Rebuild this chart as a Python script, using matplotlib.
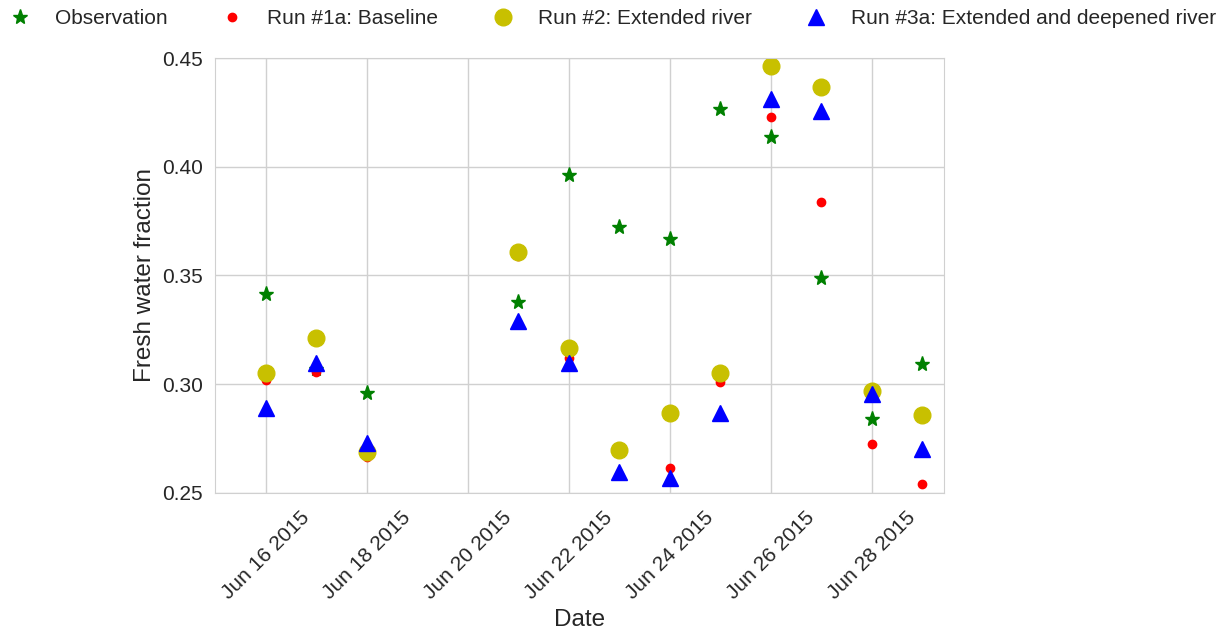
import datetime as dt
import matplotlib
matplotlib.use('Agg')
import matplotlib.pyplot as plt
import matplotlib.dates as mdates

# sampling days (June 2015)
days = [16, 17, 18, 21, 22, 23, 24, 25, 26, 27, 28, 29]
dates = [dt.datetime(2015, 6, d) for d in days]

observation = [0.3415, 0.307, 0.296, 0.3378, 0.3962, 0.3723, 0.3668, 0.4266, 0.4138, 0.349, 0.2839, 0.3092]
baseline = [0.302, 0.3058, 0.2667, 0.359, 0.312, 0.2583, 0.2613, 0.3009, 0.4227, 0.3837, 0.2725, 0.254]
extended = [0.305, 0.3211, 0.269, 0.361, 0.3165, 0.2698, 0.2866, 0.3053, 0.4463, 0.4368, 0.297, 0.2859]
deepened = [0.2892, 0.3099, 0.2729, 0.3292, 0.3096, 0.2598, 0.2568, 0.2869, 0.431, 0.4256, 0.2955, 0.2702]

plt.rcParams['font.family'] = ['Liberation Sans', 'DejaVu Sans']

fig = plt.figure(figsize=(12.31, 6.3), dpi=100)
ax = fig.add_axes([0.1747, 0.2175, 0.5922, 0.6904])

ax.plot(dates, observation, '*', color='green', markersize=11, label='Observation')
ax.plot(dates, baseline, 'o', color='red', markersize=6, label='Run #1a: Baseline')
ax.plot(dates, extended, 'o', color='#c8c000', markersize=12, label='Run #2: Extended river')
ax.plot(dates, deepened, '^', color='blue', markersize=11, label='Run #3a: Extended and deepened river')

ax.set_ylim(0.25, 0.45)
ax.set_yticks([0.25, 0.30, 0.35, 0.40, 0.45])
ax.set_xlim(dt.datetime(2015, 6, 15), dt.datetime(2015, 6, 29, 10, 20))
ax.xaxis.set_major_locator(mdates.DayLocator(bymonthday=range(16, 30, 2)))
ax.xaxis.set_major_formatter(mdates.DateFormatter('%b %d %Y'))

ax.grid(True, color='#d0d0d0', linewidth=1)
ax.set_axisbelow(True)
for s in ax.spines.values():
    s.set_color('#d0d0d0')
ax.tick_params(length=0, labelsize=15, colors='#262626', pad=9)
ax.tick_params(axis='x', pad=11)
for lab in ax.get_xticklabels():
    lab.set_rotation(45)
    lab.set_ha('center')

ax.set_xlabel('Date', fontsize=17.5, color='#262626')
ax.set_ylabel('Fresh water fraction', fontsize=17.5, color='#262626')

fig.legend(loc='upper left', bbox_to_anchor=(0.001, 0.999), ncol=4, frameon=False,
           fontsize=15, numpoints=1, handlelength=1.0, handletextpad=1.18,
           columnspacing=2.6, borderaxespad=0, labelcolor='#262626')

fig.savefig('out.png', dpi=100)
